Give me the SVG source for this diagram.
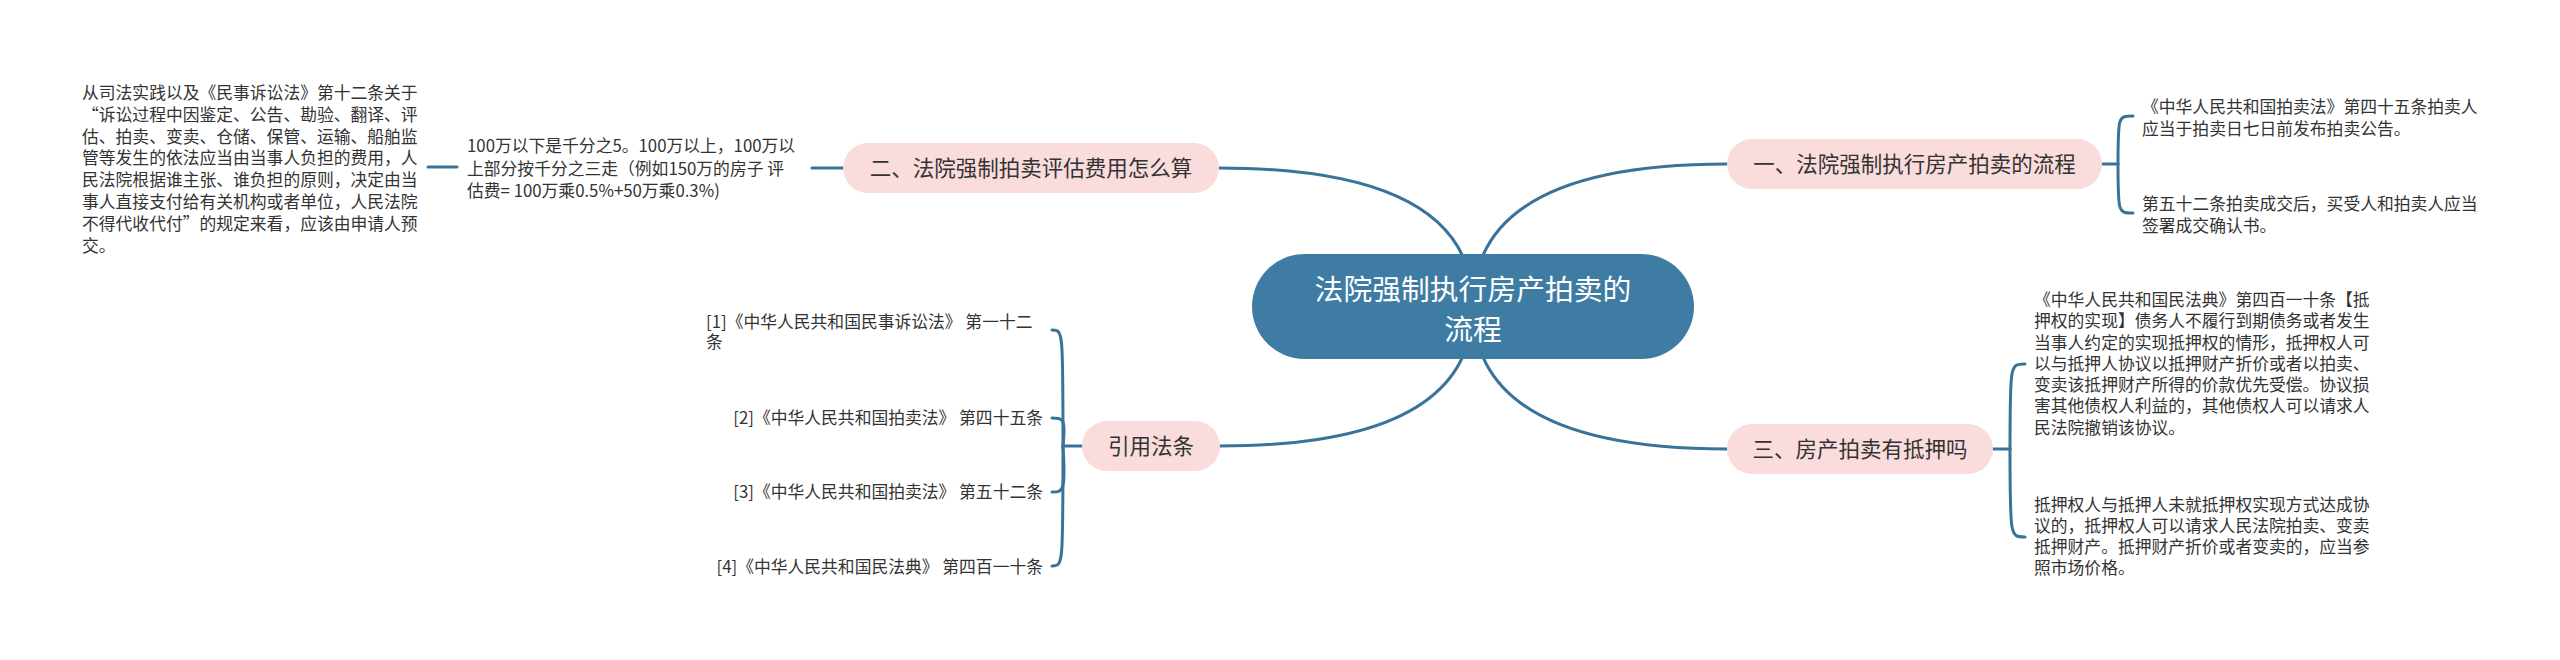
<svg xmlns="http://www.w3.org/2000/svg" width="2560" height="660" viewBox="0 0 2560 660">
<style>
.bg{fill:#ffffff}
.conn{fill:none;stroke:#3a7399;stroke-width:3;stroke-linecap:round}
.root{fill:#3e7ca4}
.rootText{fill:#ffffff;font-family:"Noto Sans CJK SC","Noto Sans",sans-serif;font-size:28.8px;text-anchor:middle}
.sub{fill:#fadcdc}
.subText{fill:#333333;font-family:"Noto Sans CJK SC","Noto Sans",sans-serif;font-size:21.5px;text-anchor:middle}
.leaf{fill:#333333;font-family:"Noto Sans CJK SC","Noto Sans",sans-serif;font-size:16.8px;text-spacing-trim:space-all}
.end{text-anchor:end}
</style>
<rect class="bg" x="0" y="0" width="2560" height="660"/>
<g id="connectors">
  <path class="conn" d="M1473,306 Q1473,168 1219,168"/>
  <path class="conn" d="M1473,306 Q1473,164 1727,164"/>
  <path class="conn" d="M1473,306 Q1473,446 1220,446"/>
  <path class="conn" d="M1473,306 Q1473,449 1727,449"/>
  <path class="conn" d="M843,168 L812,168"/>
  <path class="conn" d="M457,167 L428,167"/>
  <path class="conn" d="M2102,164 L2118,164"/>
  <path class="conn" d="M2118,164 C2118,116 2118,116 2133,116"/>
  <path class="conn" d="M2118,164 C2118,213 2118,213 2133,213"/>
  <path class="conn" d="M1993,449 L2010,449"/>
  <path class="conn" d="M2010,449 C2010,364 2010,364 2025,364"/>
  <path class="conn" d="M2010,449 C2010,537 2010,537 2025,537"/>
  <path class="conn" d="M1082,446 L1063,446"/>
  <path class="conn" d="M1063,446 C1063,330 1063,330 1052,330"/>
  <path class="conn" d="M1063,446 C1066,418 1063,418 1052,418"/>
  <path class="conn" d="M1063,446 C1066,492 1063,492 1052,492"/>
  <path class="conn" d="M1063,446 C1063,566 1063,566 1052,566"/>
</g>
<g id="root">
  <rect class="root" x="1252" y="254" width="442" height="105" rx="52.5"/>
  <text class="rootText" x="1473" y="300">法院强制执行房产拍卖的</text>
  <text class="rootText" x="1473" y="340">流程</text>
</g>
<g id="node-1">
  <rect class="sub" x="1727" y="139" width="375" height="50" rx="25"/>
  <text class="subText" x="1914.5" y="172">一、法院强制执行房产拍卖的流程</text>
</g>
<g id="node-1-a">
  <text class="leaf" x="2142" y="113">《中华人民共和国拍卖法》第四十五条拍卖人</text>
  <text class="leaf" x="2142" y="135">应当于拍卖日七日前发布拍卖公告。</text>
</g>
<g id="node-1-b">
  <text class="leaf" x="2142" y="210">第五十二条拍卖成交后，买受人和拍卖人应当</text>
  <text class="leaf" x="2142" y="232">签署成交确认书。</text>
</g>
<g id="node-2">
  <rect class="sub" x="843" y="143" width="376" height="50" rx="25"/>
  <text class="subText" x="1031" y="176">二、法院强制拍卖评估费用怎么算</text>
</g>
<g id="node-2-a">
  <text class="leaf" x="467" y="152">100万以下是千分之5。100万以上，100万以</text>
  <text class="leaf" x="467" y="175">上部分按千分之三走（例如150万的房子 评</text>
  <text class="leaf" x="467" y="197">估费= 100万乘0.5%+50万乘0.3%)</text>
</g>
<g id="node-2-a-1">
  <text class="leaf" x="82" y="99">从司法实践以及《民事诉讼法》第十二条关于</text>
  <text class="leaf" x="82" y="121">“诉讼过程中因鉴定、公告、勘验、翻译、评</text>
  <text class="leaf" x="82" y="143">估、拍卖、变卖、仓储、保管、运输、船舶监</text>
  <text class="leaf" x="82" y="164">管等发生的依法应当由当事人负担的费用，人</text>
  <text class="leaf" x="82" y="186">民法院根据谁主张、谁负担的原则，决定由当</text>
  <text class="leaf" x="82" y="208">事人直接支付给有关机构或者单位，人民法院</text>
  <text class="leaf" x="82" y="230">不得代收代付”的规定来看，应该由申请人预</text>
  <text class="leaf" x="82" y="252">交。</text>
</g>
<g id="node-3">
  <rect class="sub" x="1727" y="424" width="266" height="50" rx="25"/>
  <text class="subText" x="1860" y="457">三、房产拍卖有抵押吗</text>
</g>
<g id="node-3-a">
  <text class="leaf" x="2034" y="306">《中华人民共和国民法典》第四百一十条【抵</text>
  <text class="leaf" x="2034" y="327">押权的实现】债务人不履行到期债务或者发生</text>
  <text class="leaf" x="2034" y="349">当事人约定的实现抵押权的情形，抵押权人可</text>
  <text class="leaf" x="2034" y="370">以与抵押人协议以抵押财产折价或者以拍卖、</text>
  <text class="leaf" x="2034" y="391">变卖该抵押财产所得的价款优先受偿。协议损</text>
  <text class="leaf" x="2034" y="412">害其他债权人利益的，其他债权人可以请求人</text>
  <text class="leaf" x="2034" y="434">民法院撤销该协议。</text>
</g>
<g id="node-3-b">
  <text class="leaf" x="2034" y="511">抵押权人与抵押人未就抵押权实现方式达成协</text>
  <text class="leaf" x="2034" y="532">议的，抵押权人可以请求人民法院拍卖、变卖</text>
  <text class="leaf" x="2034" y="553">抵押财产。抵押财产折价或者变卖的，应当参</text>
  <text class="leaf" x="2034" y="574">照市场价格。</text>
</g>
<g id="node-4">
  <rect class="sub" x="1082" y="421" width="138" height="50" rx="25"/>
  <text class="subText" x="1151" y="454">引用法条</text>
</g>
<g id="node-4-a">
  <text class="leaf" x="706" y="328">[1]《中华人民共和国民事诉讼法》 第一十二</text>
  <text class="leaf" x="706" y="348">条</text>
</g>
<g id="node-4-b">
  <text class="leaf end" x="1043" y="424">[2]《中华人民共和国拍卖法》 第四十五条</text>
</g>
<g id="node-4-c">
  <text class="leaf end" x="1043" y="498">[3]《中华人民共和国拍卖法》 第五十二条</text>
</g>
<g id="node-4-d">
  <text class="leaf end" x="1043" y="573">[4]《中华人民共和国民法典》 第四百一十条</text>
</g>
</svg>
